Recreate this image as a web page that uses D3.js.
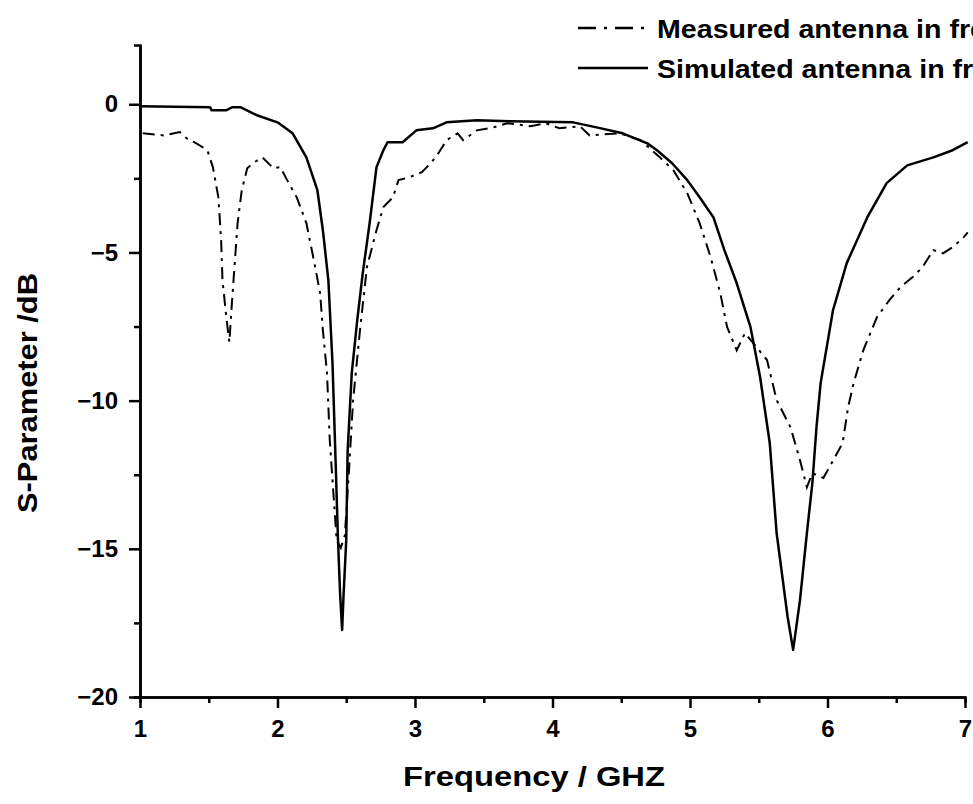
<!DOCTYPE html>
<html>
<head>
<meta charset="utf-8">
<script src="https://cdn.jsdelivr.net/npm/d3@7"></script>
<style>
  html, body { margin: 0; padding: 0; background: #fff; overflow: hidden; }
  svg { display: block; font-family: "Liberation Sans", Arial, sans-serif; }
</style>
</head>
<body>
<svg id="chart"></svg>
<script>
const width = 973;
const height = 804;

// Measured antenna (dash-dot) - frequency in GHz, S11 in dB
const measuredFreq = [1.02, 1.17, 1.29, 1.34, 1.41, 1.49, 1.53, 1.57, 1.59, 1.60, 1.63, 1.65, 1.66, 1.68, 1.71,
  1.74, 1.78, 1.82, 1.89, 1.97, 2.02, 2.07, 2.14, 2.21, 2.26, 2.31, 2.33, 2.36, 2.38, 2.41, 2.43, 2.46, 2.49,
  2.52, 2.55, 2.60, 2.65, 2.72, 2.77, 2.84, 2.88, 2.96, 3.05, 3.12, 3.17, 3.23, 3.31, 3.35, 3.45, 3.57, 3.67,
  3.84, 3.95, 4.05, 4.20, 4.27, 4.49, 4.64, 4.78, 4.88, 4.98, 5.07, 5.15, 5.22, 5.27, 5.34, 5.40, 5.46, 5.56,
  5.63, 5.73, 5.80, 5.85, 5.89, 5.97, 6.03, 6.11, 6.15, 6.19, 6.26, 6.36, 6.45, 6.53, 6.62, 6.69, 6.77, 6.84,
  6.91, 6.99, 7.02];
const measuredDb = [-0.98, -1.05, -0.94, -1.15, -1.32, -1.55, -2.12, -3.14, -4.59, -5.94, -7.28, -8.03, -7.28, -5.94, -4.01,
  -2.90, -2.16, -1.99, -1.79, -2.16, -2.12, -2.56, -3.14, -4.01, -5.16, -6.37, -7.62, -9.07, -11.33, -13.36, -14.70, -14.97, -14.54,
  -12.34, -9.98, -7.62, -5.50, -4.25, -3.47, -3.14, -2.56, -2.46, -2.29, -1.96, -1.65, -1.21, -0.98, -1.21, -0.88, -0.78, -0.64,
  -0.74, -0.64, -0.81, -0.74, -1.05, -0.98, -1.21, -1.79, -2.23, -3.00, -4.01, -5.16, -6.37, -7.52, -8.30, -7.72, -8.06, -8.63,
  -9.98, -10.89, -12.01, -12.92, -12.45, -12.61, -12.11, -11.43, -10.22, -9.41, -8.30, -7.18, -6.61, -6.17, -5.83, -5.50, -4.92, -5.03,
  -4.82, -4.49, -4.32];

// Simulated antenna (solid)
const simulatedFreq = [1.00, 1.51, 1.52, 1.63, 1.67, 1.73, 1.85, 2.00, 2.11, 2.21, 2.29, 2.33, 2.37, 2.40, 2.42,
  2.44, 2.455, 2.47, 2.48, 2.50, 2.51, 2.54, 2.58, 2.62, 2.67, 2.72, 2.77, 2.80, 2.91, 3.01, 3.13, 3.23, 3.45,
  3.69, 4.15, 4.32, 4.51, 4.69, 4.76, 4.87, 4.98, 5.07, 5.17, 5.25, 5.34, 5.44, 5.51, 5.58, 5.63, 5.71, 5.75,
  5.80, 5.85, 5.89, 5.92, 5.95, 6.04, 6.14, 6.29, 6.43, 6.58, 6.77, 6.91, 7.02];
const simulatedDb = [-0.07, -0.10, -0.20, -0.20, -0.10, -0.10, -0.37, -0.61, -0.98, -1.79, -2.90, -4.25, -5.94, -8.74, -11.67,
  -14.70, -16.50, -17.74, -16.60, -14.70, -11.70, -9.07, -7.28, -5.70, -4.01, -2.12, -1.55, -1.28, -1.28, -0.88, -0.81, -0.61, -0.54,
  -0.57, -0.61, -0.78, -0.98, -1.32, -1.55, -1.99, -2.56, -3.14, -3.81, -4.92, -6.04, -7.52, -9.21, -11.43, -14.47, -17.30, -18.41,
  -16.73, -14.47, -12.78, -10.89, -9.41, -6.95, -5.36, -3.81, -2.66, -2.06, -1.79, -1.55, -1.28];

const xTicks = [1, 2, 3, 4, 5, 6, 7];
const xMinorTicks = [1.5, 2.5, 3.5, 4.5, 5.5, 6.5];
const yTicks = [-20, -15, -10, -5, 0];
const yMinorTicks = [-17.5, -12.5, -7.5, -2.5];

const seriesNames = ["Measured antenna in free space", "Simulated antenna in free space"];

const svg = d3.select("#chart").attr("width", width).attr("height", height);

const x = d3.scaleLinear().domain([1, 7]).range([140, 965]);
const y = d3.scaleLinear().domain([-20, 2]).range([697, 45]);

// curves
const line = d3.line().x(d => x(d[0])).y(d => y(d[1]));

svg.append("path")
  .datum(d3.zip(measuredFreq, measuredDb))
  .attr("d", line)
  .attr("fill", "none")
  .attr("stroke", "#000")
  .attr("stroke-width", 2)
  .attr("stroke-dasharray", "12,6,3,6");

svg.append("path")
  .datum(d3.zip(simulatedFreq, simulatedDb))
  .attr("d", line)
  .attr("fill", "none")
  .attr("stroke", "#000")
  .attr("stroke-width", 2.5)
  .attr("stroke-linejoin", "round");

// axes
function styleAxis(g) {
  g.select(".domain").attr("stroke-width", 2.5);
  g.selectAll(".tick line").attr("stroke-width", 2.5);
  g.selectAll("text").attr("font-size", 24).attr("font-weight", "bold")
    .attr("font-family", "'Liberation Sans', Arial, sans-serif").attr("fill", "#000");
}

svg.append("g")
  .attr("transform", "translate(0,697)")
  .call(d3.axisBottom(x).tickValues(xMinorTicks).tickSize(6).tickFormat(""))
  .call(styleAxis);

svg.append("g")
  .attr("transform", "translate(0,697)")
  .call(d3.axisBottom(x).tickValues(xTicks).tickSize(11).tickSizeOuter(0).tickPadding(12).tickFormat(d3.format("d")))
  .call(styleAxis);

svg.append("g")
  .attr("transform", "translate(140,0)")
  .call(d3.axisLeft(y).tickValues(yMinorTicks).tickSize(6).tickFormat(""))
  .call(styleAxis);

svg.append("g")
  .attr("transform", "translate(140,0)")
  .call(d3.axisLeft(y).tickValues(yTicks).tickSize(11).tickSizeOuter(0).tickPadding(11).tickFormat(d3.format("d")))
  .call(styleAxis);

// axis titles
svg.append("text")
  .attr("x", 534)
  .attr("y", 786)
  .attr("text-anchor", "middle")
  .attr("font-size", 28)
  .attr("font-weight", "bold")
  .attr("textLength", 262)
  .attr("lengthAdjust", "spacingAndGlyphs")
  .text("Frequency / GHZ");

svg.append("text")
  .attr("transform", "translate(37,393) rotate(-90)")
  .attr("text-anchor", "middle")
  .attr("font-size", 28)
  .attr("font-weight", "bold")
  .attr("textLength", 240)
  .attr("lengthAdjust", "spacingAndGlyphs")
  .text("S-Parameter /dB");

// legend
const legend = svg.append("g");
const legendY = [28, 68];
const legendDash = ["18,8,3,8", null];

seriesNames.forEach((name, i) => {
  legend.append("line")
    .attr("x1", 578).attr("x2", 648)
    .attr("y1", legendY[i]).attr("y2", legendY[i])
    .attr("stroke", "#000")
    .attr("stroke-width", 2.5)
    .attr("stroke-dasharray", legendDash[i]);
  legend.append("text")
    .attr("transform", `translate(657,${legendY[i] + 10}) scale(1.1,1)`)
    .attr("font-size", 26)
    .attr("font-weight", "bold")
    .text(name);
});
</script>
</body>
</html>
